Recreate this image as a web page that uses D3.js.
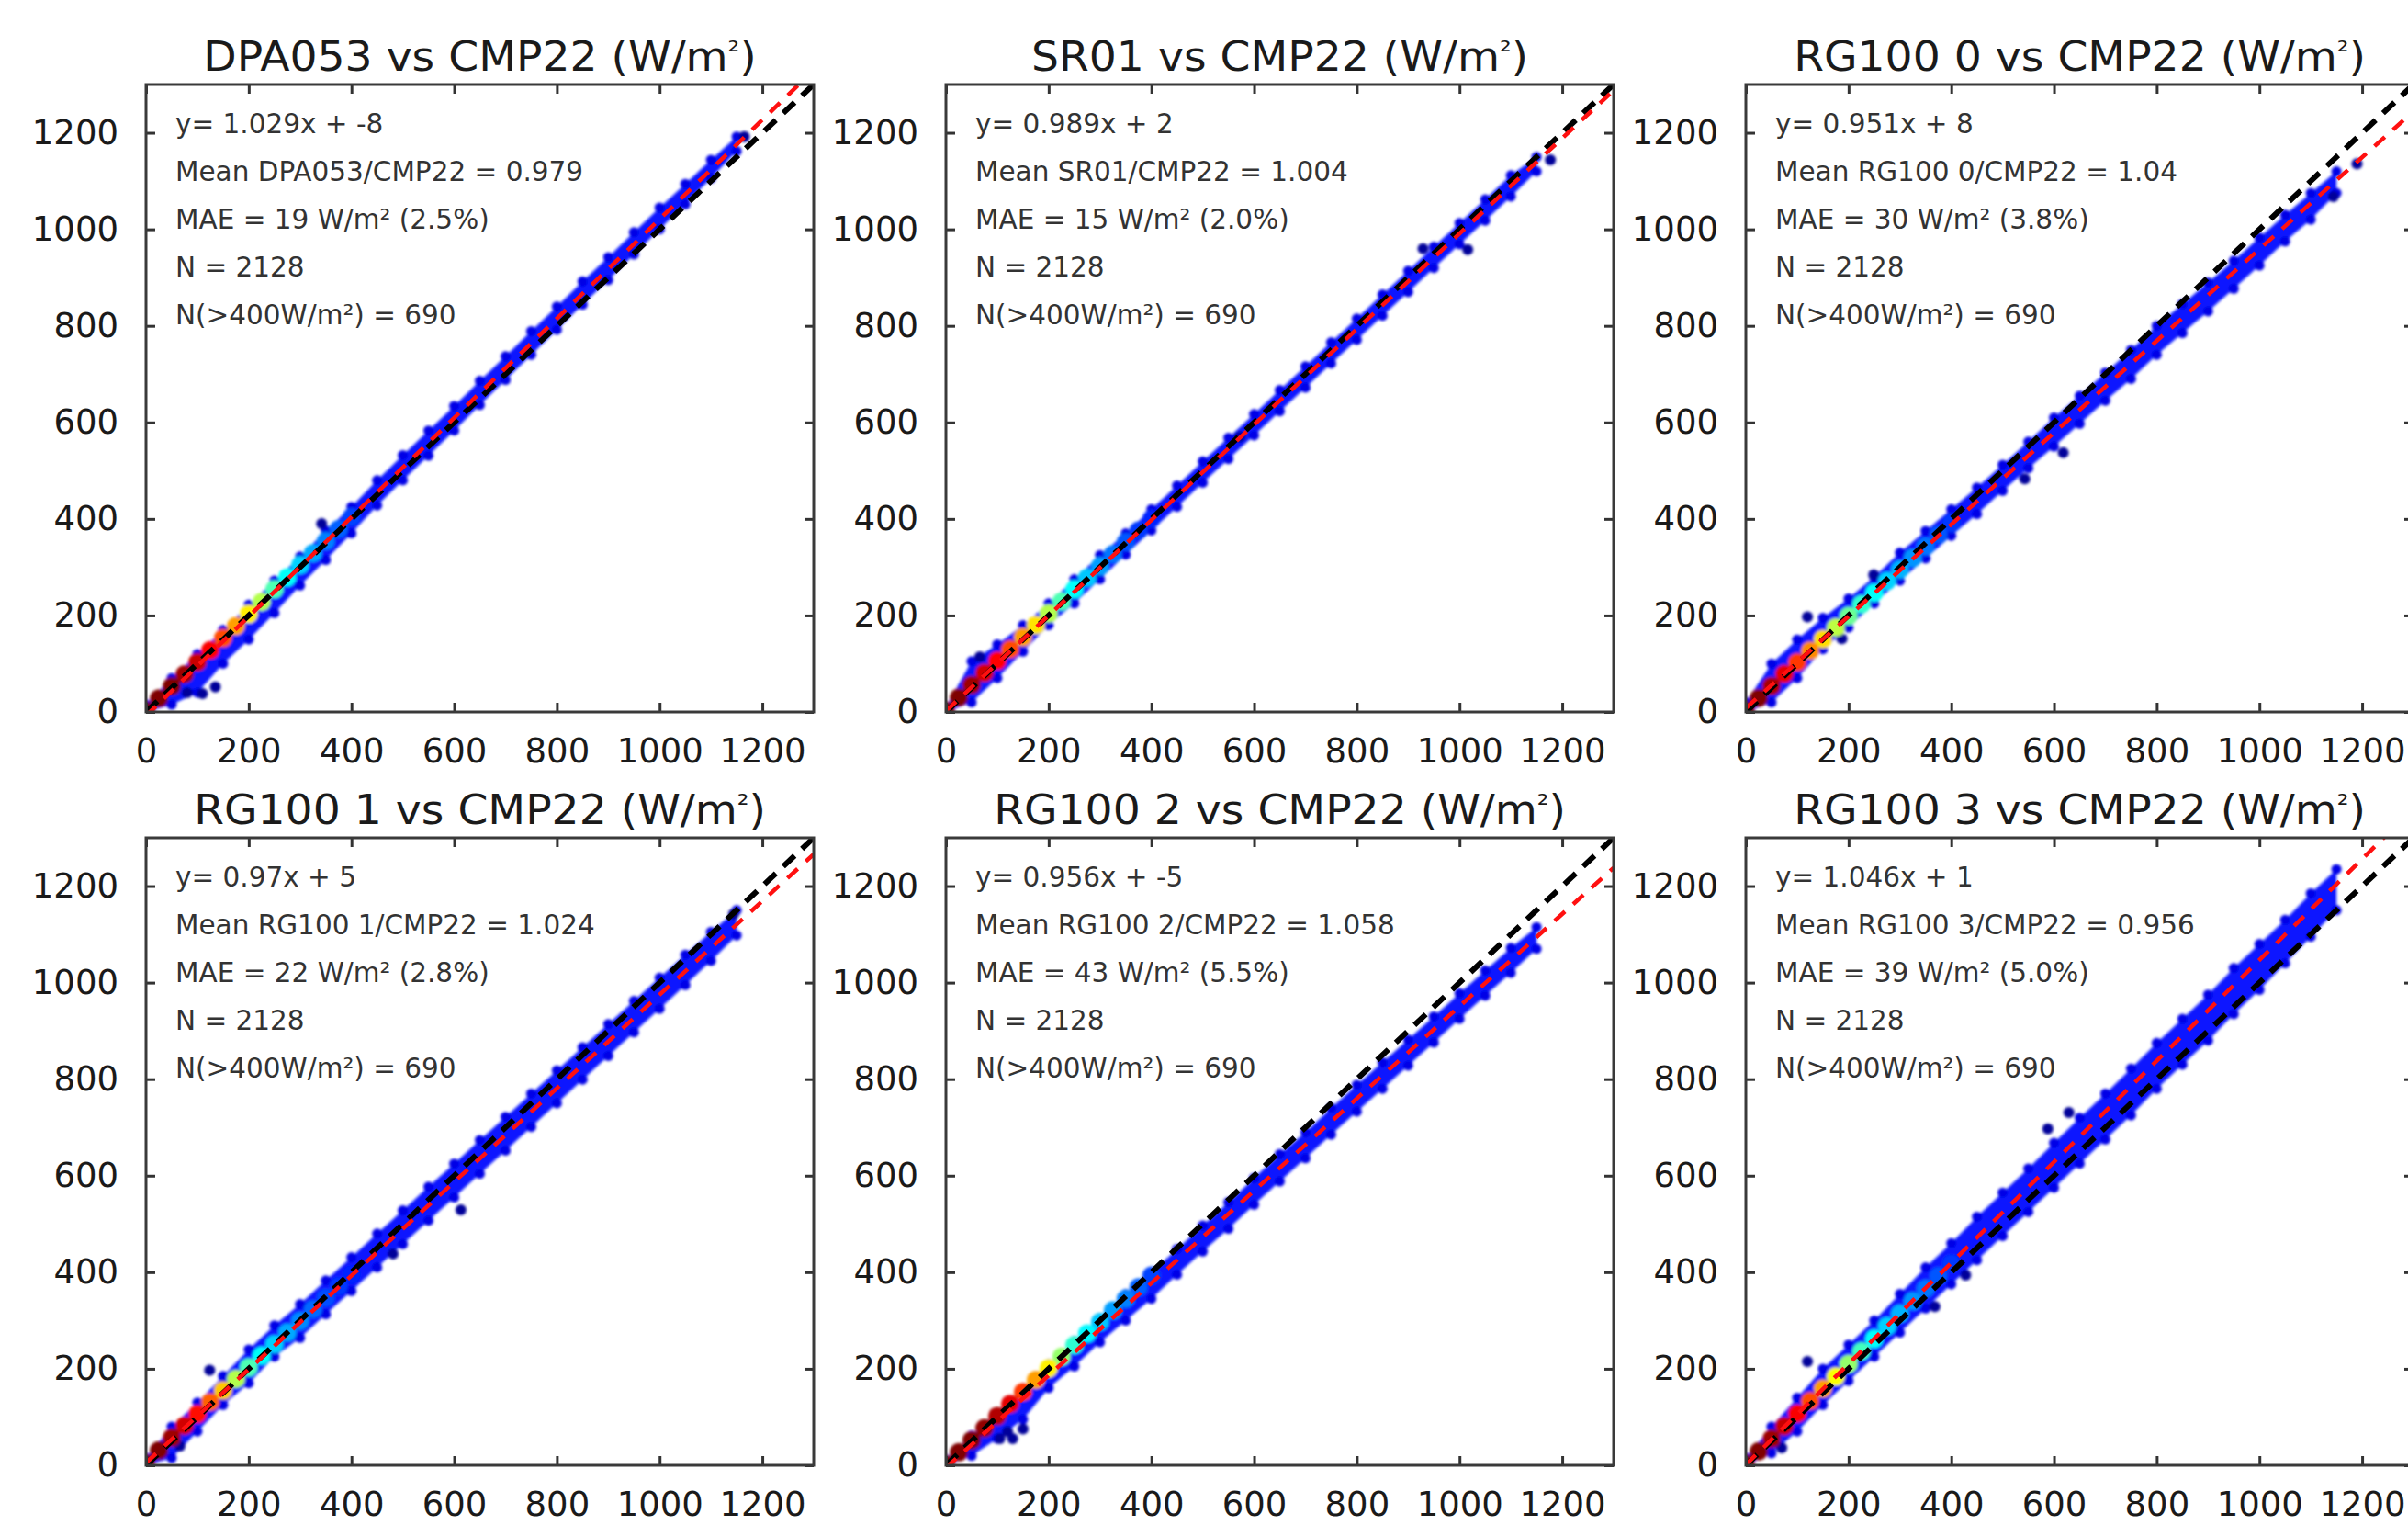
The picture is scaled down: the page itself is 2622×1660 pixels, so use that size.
<!DOCTYPE html>
<html><head><meta charset="utf-8">
<script src="https://cdn.jsdelivr.net/npm/d3@7"></script>
<style>body{margin:0;background:#fff;} svg{display:block;}</style>
</head><body><svg id="c" width="2622" height="1660"></svg>
<script>
// ---------- data ----------
const panelNames = ["DPA053","SR01","RG100 0","RG100 1","RG100 2","RG100 3"];
const referenceName = "CMP22";
const slopes = [1.029, 0.989, 0.951, 0.97, 0.956, 1.046];
const intercepts = [-8, 2, 8, 5, -5, 1];
const fitLabels = ["y= 1.029x + -8","y= 0.989x + 2","y= 0.951x + 8","y= 0.97x + 5","y= 0.956x + -5","y= 1.046x + 1"];
const meanRatios = ["0.979","1.004","1.04","1.024","1.058","0.956"];
const maeValues = ["19","15","30","22","43","39"];
const maePercents = ["2.5","2.0","3.8","2.8","5.5","5.0"];
const nTotal = 2128;
const nAbove400 = 690;
const tickValues = [0,200,400,600,800,1000,1200];

// band envelope of the scatter cloud (CMP22 value -> sensor low/high)
const bandX = [0,50,100,150,200,250,300,350,400,450,500,550,600,650,700,750,800,850,900,950,1000,1050,1100,1150];
const bandLow = [
  [0,15,40,100,150,205,262,315,370,428,480,531,583,636,688,740,792,844,895,948,1000,1052,1106,1162],
  [0,20,70,125,180,225,275,326,376,425,475,524,573,623,672,722,771,821,870,920,969,1018,1068,1120],
  [0,20,70,130,175,225,272,318,365,410,458,505,550,597,645,690,740,785,830,877,925,975,1020,1075],
  [0,15,70,125,170,225,264,313,361,410,458,507,555,604,652,701,750,799,848,897,946,995,1045,1098],
  [0,20,55,95,160,205,255,300,345,395,443,490,540,588,636,685,733,780,828,876,925,973,1020,1070],
  [0,25,70,125,175,225,275,325,375,425,475,525,575,625,675,725,780,830,880,935,985,1040,1095,1150]
];
const bandHigh = [
  [15,70,120,170,222,272,322,376,425,480,532,583,634,686,737,789,840,892,942,994,1045,1094,1144,1192],
  [10,105,140,180,225,275,325,370,420,469,519,568,617,667,716,766,815,865,914,964,1013,1062,1112,1150],
  [20,100,150,195,235,280,330,375,420,465,512,560,610,655,703,750,800,845,890,935,983,1030,1075,1120],
  [15,80,130,185,240,290,334,383,431,480,528,577,625,674,722,770,818,866,914,962,1010,1058,1105,1150],
  [12,62,110,160,210,258,305,355,400,448,497,545,595,645,690,740,788,835,882,930,978,1025,1072,1115],
  [15,80,140,200,250,300,355,410,460,515,565,615,668,720,770,822,875,925,975,1030,1080,1130,1185,1235]
];
// dense core of the cloud (low irradiance), with relative point density
const coreX = [0,25,50,75,100,125,150,175,200,225,250,275,300,325,350,375,400];
const coreY = [
  [2,28,53,78,103,128,153,178,203,228,254,279,304,329,354,379,404],
  [3,30,56,81,106,130,155,180,204,229,254,278,302,327,352,376,400],
  [3,29,54,79,103,127,151,175,199,223,247,271,295,319,343,367,391],
  [4,31,57,82,106,131,155,179,203,227,251,275,299,323,347,371,395],
  [2,27,52,77,102,127,152,177,201,225,249,273,297,321,345,369,393],
  [3,29,55,81,107,133,159,184,210,236,262,288,314,340,366,392,418]
];
const coreDensity = [
  [1,1,1,0.97,0.93,0.88,0.8,0.72,0.64,0.55,0.45,0.38,0.33,0.29,0.25,0.22,0.19],
  [1,1,0.97,0.92,0.87,0.8,0.72,0.65,0.55,0.45,0.38,0.32,0.28,0.24,0.21,0.18,0.16],
  [1,1,0.96,0.9,0.82,0.74,0.66,0.56,0.48,0.42,0.38,0.33,0.3,0.27,0.24,0.21,0.18],
  [1,1,0.97,0.92,0.86,0.78,0.68,0.55,0.45,0.38,0.33,0.29,0.26,0.23,0.2,0.18,0.16],
  [1,1,1,0.98,0.95,0.9,0.82,0.72,0.64,0.52,0.42,0.37,0.32,0.28,0.25,0.22,0.19],
  [1,1,0.97,0.93,0.88,0.8,0.72,0.62,0.52,0.44,0.38,0.33,0.3,0.27,0.24,0.21,0.18]
];
// isolated low-density points
const outliers = [
  [[80,40],[110,38],[135,52],[342,390],[1165,1192]],
  [[66,114],[929,960],[1016,958],[1177,1144],[572,570]],
  [[120,197],[187,152],[249,284],[543,483],[618,537],[1144,1068],[1190,1136]],
  [[66,40],[124,197],[481,438],[613,529],[1144,1142]],
  [[105,55],[130,55],[150,75],[120,70]],
  [[70,36],[120,215],[368,329],[428,394],[588,697],[629,731]]
];

// ---------- layout ----------
const W = 727, H = 683;
const colLeft = [159, 1030, 1901], rowTop = [92, 912];
const FONT = "DejaVu Sans, Verdana, sans-serif";

const svg = d3.select("#c");
const defs = svg.append("defs");
defs.append("filter").attr("id","soft").attr("x","-5%").attr("y","-5%").attr("width","110%").attr("height","110%")
  .append("feGaussianBlur").attr("stdDeviation", 1.6);

const jet = d3.scaleLinear()
  .domain([0, 0.125, 0.375, 0.625, 0.875, 1])
  .range(["#00007f","#0000ff","#00ffff","#ffff00","#ff0000","#7f0000"])
  .clamp(true);

const x = d3.scaleLinear().domain([0,1300]).range([0,W]);
const y = d3.scaleLinear().domain([0,1300]).range([H,0]);

panelNames.forEach((name, i) => {
  const col = i % 3, row = Math.floor(i / 3);
  const g = svg.append("g").attr("transform", `translate(${colLeft[col]},${rowTop[row]})`);

  defs.append("clipPath").attr("id", "clip" + i)
    .append("rect").attr("width", W).attr("height", H);

  const plot = g.append("g").attr("clip-path", `url(#clip${i})`);
  const cloud = plot.append("g").attr("filter", "url(#soft)");

  const band = bandX.map((bx, j) => ({x: bx, lo: bandLow[i][j], hi: bandHigh[i][j]}));
  cloud.append("path").datum(band)
    .attr("d", d3.area().x(d => x(d.x)).y0(d => y(d.lo)).y1(d => y(d.hi)))
    .attr("fill", "#0812ff");

  const edgePts = band.flatMap(d => [[d.x, d.lo], [d.x, d.hi]]);
  cloud.selectAll("circle.edge").data(edgePts).join("circle")
    .attr("class","edge")
    .attr("cx", d => x(d[0])).attr("cy", d => y(d[1])).attr("r", 5.5)
    .attr("fill", "#0000e6");

  cloud.selectAll("circle.out").data(outliers[i]).join("circle")
    .attr("class","out")
    .attr("cx", d => x(d[0])).attr("cy", d => y(d[1])).attr("r", 6)
    .attr("fill", "#00009a");

  const core = coreX.map((cx, j) => ({x: cx, y: coreY[i][j], d: coreDensity[i][j]}));
  cloud.selectAll("circle.core").data(core.slice().reverse()).join("circle")
    .attr("class","core")
    .attr("cx", d => x(d.x)).attr("cy", d => y(d.y)).attr("r", 10)
    .attr("fill", d => jet(d.d));

  // 1:1 line and regression line
  plot.append("line")
    .attr("x1", x(0)).attr("y1", y(0)).attr("x2", x(1300)).attr("y2", y(1300))
    .attr("stroke", "#000").attr("stroke-width", 6).attr("stroke-dasharray", "17 11");
  plot.append("line")
    .attr("x1", x(0)).attr("y1", y(intercepts[i]))
    .attr("x2", x(1300)).attr("y2", y(slopes[i] * 1300 + intercepts[i]))
    .attr("stroke", "#ff1010").attr("stroke-width", 4.5).attr("stroke-dasharray", "15 12");

  // axes: inward ticks on all four sides
  const styleAxis = (sel, showLabels) => {
    sel.select(".domain").remove();
    sel.selectAll(".tick line").attr("stroke", "#333").attr("stroke-width", 3);
    sel.selectAll(".tick text").attr("font-family", FONT).attr("font-size", 37).attr("fill", "#1a1a1a");
    if (!showLabels) sel.selectAll(".tick text").remove();
  };
  g.append("g").attr("transform", `translate(0,${H})`)
    .call(d3.axisBottom(x).tickValues(tickValues).tickSize(-10).tickPadding(29).tickFormat(d3.format("d")))
    .call(s => styleAxis(s, true));
  g.append("g")
    .call(d3.axisLeft(y).tickValues(tickValues).tickSize(-10).tickPadding(30).tickFormat(d3.format("d")))
    .call(s => styleAxis(s, true));
  g.append("g")
    .call(d3.axisTop(x).tickValues(tickValues).tickSize(-10).tickFormat(""))
    .call(s => styleAxis(s, false));
  g.append("g").attr("transform", `translate(${W},0)`)
    .call(d3.axisRight(y).tickValues(tickValues).tickSize(-10).tickFormat(""))
    .call(s => styleAxis(s, false));

  g.append("rect").attr("width", W).attr("height", H)
    .attr("fill", "none").attr("stroke", "#3a3a3a").attr("stroke-width", 3);

  // title
  const t = g.append("text")
    .attr("transform", `translate(${W/2},${-15}) scale(1.05,1)`)
    .attr("text-anchor", "middle")
    .attr("font-family", FONT).attr("font-size", 45).attr("fill", "#1a1a1a");
  t.append("tspan").text(`${name} vs ${referenceName} (W/m`);
  t.append("tspan").attr("font-size", 30).attr("dy", -11).text("²");
  t.append("tspan").attr("dy", 11).text(")");

  // statistics text
  const lines = [
    fitLabels[i],
    `Mean ${name}/${referenceName} = ${meanRatios[i]}`,
    `MAE = ${maeValues[i]} W/m² (${maePercents[i]}%)`,
    `N = ${nTotal}`,
    `N(>400W/m²) = ${nAbove400}`
  ];
  g.selectAll("text.stat").data(lines).join("text")
    .attr("class", "stat")
    .attr("x", 32).attr("y", (d, k) => 53 + k * 52)
    .attr("font-family", FONT).attr("font-size", 29.5).attr("fill", "#333")
    .text(d => d);
});
</script>
</body></html>
